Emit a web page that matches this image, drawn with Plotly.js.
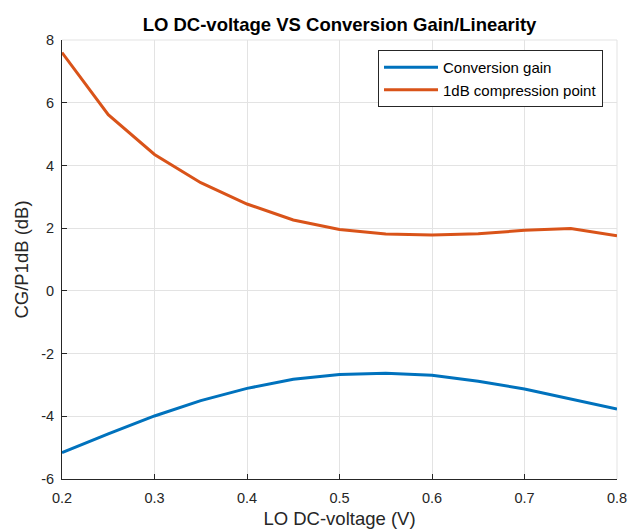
<!DOCTYPE html>
<html>
<head>
<meta charset="utf-8">
<script src="https://cdn.plot.ly/plotly-3.0.1.min.js"></script>
<style>html,body{margin:0;padding:0;background:#fff}#chart{width:632px;height:531px}</style>
</head>
<body>
<div id="chart"></div>
<script>
const voltage = [0.2, 0.25, 0.3, 0.35, 0.4, 0.45, 0.5, 0.55, 0.6, 0.65, 0.7, 0.75, 0.8];
const conversionGain = [-5.16, -4.56, -3.99, -3.5, -3.11, -2.82, -2.67, -2.63, -2.69, -2.88, -3.13, -3.45, -3.77];
const p1dB = [7.6, 5.62, 4.35, 3.45, 2.77, 2.26, 1.96, 1.81, 1.78, 1.82, 1.93, 1.99, 1.76];
const xTicks = [0.2, 0.3, 0.4, 0.5, 0.6, 0.7, 0.8];
const yTicks = [-6, -4, -2, 0, 2, 4, 6, 8];

const font = 'Liberation Sans, Arial, sans-serif';
const traces = [
  {x: voltage, y: conversionGain, mode: 'lines', name: 'Conversion gain',
   line: {color: '#0072BD', width: 3}},
  {x: voltage, y: p1dB, mode: 'lines', name: '1dB compression point',
   line: {color: '#D95319', width: 3}}
];
const layout = {
  width: 632, height: 531,
  margin: {l: 62, r: 15, t: 40, b: 52},
  paper_bgcolor: '#fff', plot_bgcolor: '#fff',
  font: {family: font, color: '#262626'},
  title: {text: '<b>LO DC-voltage VS Conversion Gain/Linearity</b>', font: {size: 18.5, color: '#000'},
          x: 0.5, xanchor: 'center', xref: 'paper', y: 1 - 25 / 531, yanchor: 'middle'},
  xaxis: {range: [0.2, 0.8], tickvals: xTicks, ticktext: xTicks.map(v => v.toFixed(1)),
          ticks: 'inside', ticklen: 5, tickcolor: '#262626', showline: true, linecolor: '#262626',
          linewidth: 1, showgrid: true, gridcolor: '#e3e3e3', zeroline: false,
          ticklabelstandoff: 6,
          tickfont: {size: 14.5, color: '#262626'},
          title: {text: 'LO DC-voltage (V)', font: {size: 18.5, color: '#262626'}, standoff: 6}},
  yaxis: {range: [-6, 8], tickvals: yTicks, ticktext: yTicks.map(v => String(v).replace('\u2212', '-')),
          ticks: 'inside', ticklen: 5, tickcolor: '#262626', showline: true, linecolor: '#262626',
          linewidth: 1, showgrid: true, gridcolor: '#e3e3e3', zeroline: false,
          ticklabelstandoff: 4,
          tickfont: {size: 14.5, color: '#262626'},
          title: {text: 'CG/P1dB (dB)', font: {size: 18.5, color: '#262626'}, standoff: 7}},
  legend: {x: (603 - 62) / 555, xanchor: 'right', y: (479 - 50) / 439, yanchor: 'top', bgcolor: '#fff',
           bordercolor: '#262626', borderwidth: 1, font: {size: 15, color: '#000'},
           itemwidth: 54, tracegroupgap: 0},
  shapes: [
    {type: 'line', xref: 'paper', yref: 'paper', x0: 0, x1: 1, y0: 1, y1: 1, line: {color: '#e3e3e3', width: 1}, layer: 'below'},
    {type: 'line', xref: 'paper', yref: 'paper', x0: 1, x1: 1, y0: 0, y1: 1, line: {color: '#e3e3e3', width: 1}, layer: 'below'}
  ],
  showlegend: true
};
Plotly.newPlot('chart', traces, layout, {displayModeBar: false, staticPlot: true});
</script>
</body>
</html>
